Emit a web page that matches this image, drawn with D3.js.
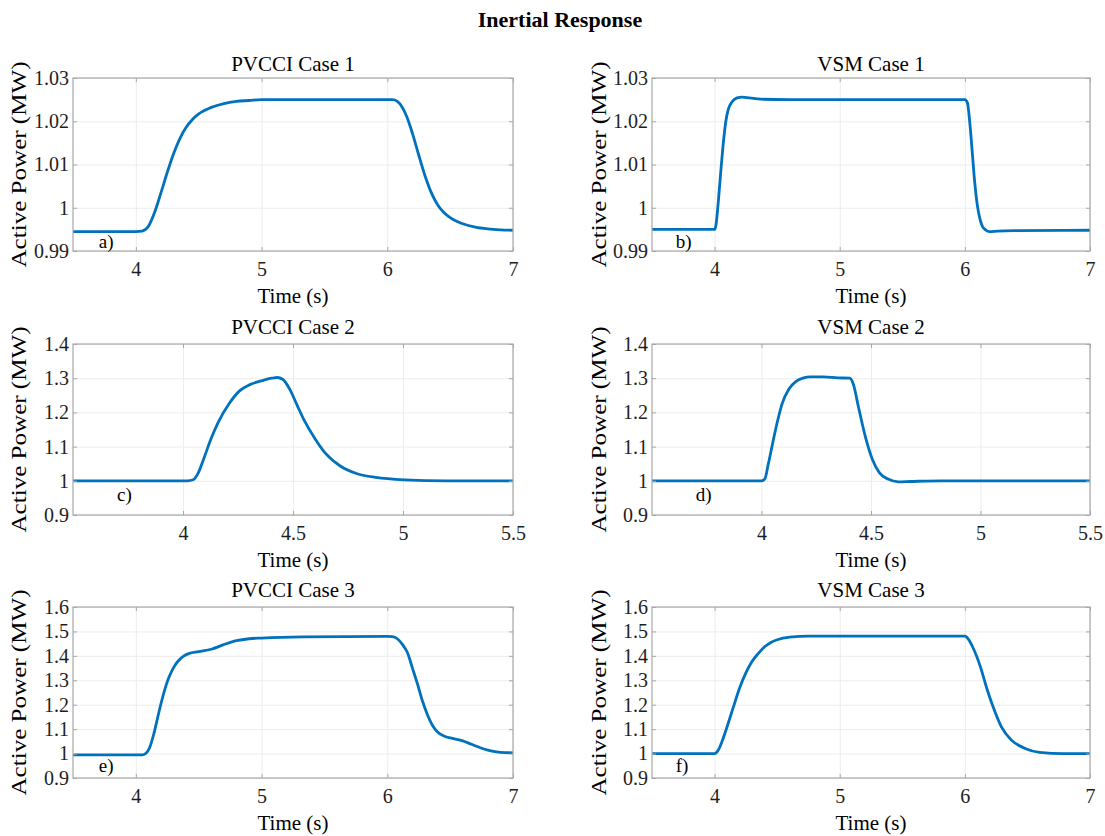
<!DOCTYPE html>
<html>
<head>
<meta charset="utf-8">
<script src="https://cdn.jsdelivr.net/npm/d3@7/dist/d3.min.js"></script>
<style>
  html, body { margin: 0; padding: 0; background: #fff; }
  svg { display: block; }
  text { font-family: "Liberation Serif", "Times New Roman", serif; }
</style>
</head>
<body>
<script>
// ---- Data: active power (MW) versus time (s) for each case ----
const timePVCCI1 = [3.5, 4.0, 4.05, 4.1, 4.15, 4.2, 4.25, 4.3, 4.35, 4.4, 4.45, 4.5, 4.6, 4.7, 4.8, 4.9, 5.0, 5.5, 6.04, 6.08, 6.12, 6.16, 6.2, 6.25, 6.3, 6.35, 6.4, 6.45, 6.5, 6.6, 6.7, 6.8, 6.9, 7.0];
const powerPVCCI1 = [0.9945, 0.9945, 0.9946, 0.9957, 0.999, 1.0035, 1.0082, 1.0125, 1.016, 1.0186, 1.0204, 1.0217, 1.0232, 1.0241, 1.0246, 1.0248, 1.025, 1.025, 1.025, 1.0246, 1.0232, 1.0207, 1.0172, 1.0122, 1.0074, 1.0035, 1.0007, 0.9989, 0.9977, 0.9963, 0.9955, 0.9951, 0.9949, 0.9948];

const timeVSM1 = [3.5, 4.0, 4.01, 4.03, 4.05, 4.07, 4.09, 4.11, 4.14, 4.18, 4.22, 4.28, 4.37, 4.6, 6.0, 6.02, 6.04, 6.06, 6.08, 6.1, 6.12, 6.15, 6.2, 6.26, 6.4, 7.0];
const powerVSM1 = [0.995, 0.995, 0.9958, 1.0015, 1.0085, 1.015, 1.02, 1.0228, 1.0245, 1.0254, 1.0256, 1.0254, 1.0251, 1.025, 1.025, 1.0243, 1.0195, 1.0125, 1.0055, 1.0005, 0.9975, 0.9953, 0.9945, 0.9946, 0.9947, 0.9948];

const timePVCCI2 = [3.5, 4.02, 4.046, 4.07, 4.094, 4.127, 4.16, 4.21, 4.257, 4.306, 4.355, 4.404, 4.428, 4.453, 4.485, 4.518, 4.55, 4.6, 4.648, 4.713, 4.795, 4.876, 5.006, 5.2, 5.5];
const powerPVCCI2 = [1.0, 1.0, 1.003, 1.024, 1.064, 1.122, 1.171, 1.226, 1.263, 1.282, 1.292, 1.300, 1.302, 1.297, 1.268, 1.222, 1.178, 1.123, 1.08, 1.044, 1.02, 1.01, 1.003, 1.0, 1.0];

const timeVSM2 = [3.5, 4.0, 4.015, 4.031, 4.05, 4.07, 4.094, 4.126, 4.158, 4.189, 4.221, 4.284, 4.348, 4.403, 4.419, 4.443, 4.475, 4.506, 4.538, 4.578, 4.625, 4.68, 4.823, 5.5];
const powerVSM2 = [1.0, 1.0, 1.005, 1.049, 1.107, 1.166, 1.225, 1.269, 1.291, 1.300, 1.304, 1.304, 1.301, 1.300, 1.283, 1.215, 1.127, 1.063, 1.024, 1.005, 0.997, 0.998, 1.0, 1.0];

const timePVCCI3 = [3.5, 4.05, 4.08, 4.11, 4.14, 4.17, 4.2, 4.23, 4.26, 4.3, 4.34, 4.38, 4.42, 4.5, 4.6, 4.7, 4.8, 4.9, 5.0, 5.33, 6.0, 6.04, 6.08, 6.12, 6.16, 6.2, 6.24, 6.28, 6.32, 6.36, 6.4, 6.45, 6.52, 6.6, 6.67, 6.74, 6.8, 6.87, 6.94, 7.0];
const powerPVCCI3 = [0.995, 0.995, 1.001, 1.025, 1.075, 1.14, 1.205, 1.262, 1.308, 1.352, 1.381, 1.399, 1.409, 1.417, 1.427, 1.446, 1.462, 1.47, 1.473, 1.478, 1.48, 1.479, 1.47, 1.447, 1.414, 1.35, 1.285, 1.215, 1.158, 1.115, 1.088, 1.072, 1.062, 1.052, 1.038, 1.024, 1.014, 1.007, 1.004, 1.003];

const timeVSM3 = [3.5, 4.0, 4.03, 4.06, 4.1, 4.15, 4.2, 4.25, 4.3, 4.35, 4.4, 4.45, 4.5, 4.6, 4.75, 5.5, 6.003, 6.019, 6.069, 6.125, 6.18, 6.236, 6.292, 6.375, 6.486, 6.597, 6.79, 7.0];
const powerVSM3 = [1.0, 1.0, 1.015, 1.05, 1.11, 1.19, 1.268, 1.33, 1.378, 1.41, 1.437, 1.455, 1.466, 1.477, 1.481, 1.481, 1.481, 1.474, 1.429, 1.354, 1.259, 1.177, 1.109, 1.054, 1.02, 1.005, 1.0, 1.0];

// ---- Axis settings ----
const panelTitles = ["PVCCI Case 1", "VSM Case 1", "PVCCI Case 2", "VSM Case 2", "PVCCI Case 3", "VSM Case 3"];
const panelLetters = ["a)", "b)", "c)", "d)", "e)", "f)"];
const xTicksLong = [4, 5, 6, 7];
const xTicksShort = [4, 4.5, 5, 5.5];
const yTicksRow1 = [0.99, 1, 1.01, 1.02, 1.03];
const yTicksRow2 = [0.9, 1, 1.1, 1.2, 1.3, 1.4];
const yTicksRow3 = [0.9, 1, 1.1, 1.2, 1.3, 1.4, 1.5, 1.6];

const panels = [
  { t: timePVCCI1, p: powerPVCCI1, xd: [3.5, 7], xt: xTicksLong, yd: [0.99, 1.03], yt: yTicksRow1, row: 0, col: 0, lx: 3.705, ly: 0.9908 },
  { t: timeVSM1,   p: powerVSM1,   xd: [3.5, 7], xt: xTicksLong, yd: [0.99, 1.03], yt: yTicksRow1, row: 0, col: 1, lx: 3.69,  ly: 0.9908 },
  { t: timePVCCI2, p: powerPVCCI2, xd: [3.5, 5.5], xt: xTicksShort, yd: [0.9, 1.4], yt: yTicksRow2, row: 1, col: 0, lx: 3.70, ly: 0.94 },
  { t: timeVSM2,   p: powerVSM2,   xd: [3.5, 5.5], xt: xTicksShort, yd: [0.9, 1.4], yt: yTicksRow2, row: 1, col: 1, lx: 3.70, ly: 0.94 },
  { t: timePVCCI3, p: powerPVCCI3, xd: [3.5, 7], xt: xTicksLong, yd: [0.9, 1.6], yt: yTicksRow3, row: 2, col: 0, lx: 3.705, ly: 0.925 },
  { t: timeVSM3,   p: powerVSM3,   xd: [3.5, 7], xt: xTicksLong, yd: [0.9, 1.6], yt: yTicksRow3, row: 2, col: 1, lx: 3.69,  ly: 0.925 }
];

// ---- Layout ----
const W = 1105, H = 836;
const colX = [[73, 513], [652, 1090]];
const rowY = [[78, 251], [344, 515], [607, 778]];
const lineColor = "#0072BD";
const boxColor = "#a8a8a8";
const gridColor = "#ececec";
const labelColor = "#1e1e1e";
const serif = '"Liberation Serif", "Times New Roman", serif';

const svg = d3.select("body").append("svg")
  .attr("width", W).attr("height", H);

svg.append("text")
  .attr("x", 560).attr("y", 27)
  .attr("text-anchor", "middle")
  .attr("font-size", 22).attr("font-weight", "bold")
  .attr("fill", "#000")
  .text("Inertial Response");

const fmt = d3.format("~g");

panels.forEach((d, i) => {
  const [x0, x1] = colX[d.col];
  const [y0, y1] = rowY[d.row];
  const w = x1 - x0, h = y1 - y0;

  const x = d3.scaleLinear().domain(d.xd).range([0, w]);
  const y = d3.scaleLinear().domain(d.yd).range([h, 0]);

  const g = svg.append("g").attr("transform", `translate(${x0},${y0})`);

  // grid lines
  g.append("g")
    .attr("transform", `translate(0,${h})`)
    .call(d3.axisBottom(x).tickValues(d.xt).tickSize(-h).tickFormat(""))
    .call(s => s.select(".domain").remove())
    .call(s => s.selectAll("line").attr("stroke", gridColor).attr("stroke-width", 1));
  g.append("g")
    .call(d3.axisLeft(y).tickValues(d.yt).tickSize(-w).tickFormat(""))
    .call(s => s.select(".domain").remove())
    .call(s => s.selectAll("line").attr("stroke", gridColor).attr("stroke-width", 1));

  // data line
  const line = d3.line()
    .x((_, k) => x(d.t[k]))
    .y(v => y(v))
    .curve(d3.curveMonotoneX);
  g.append("path")
    .datum(d.p)
    .attr("d", line)
    .attr("fill", "none")
    .attr("stroke", lineColor)
    .attr("stroke-width", 2.8)
    .attr("stroke-linejoin", "round");

  // box
  g.append("rect")
    .attr("x", 0).attr("y", 0).attr("width", w).attr("height", h)
    .attr("fill", "none").attr("stroke", boxColor).attr("stroke-width", 1.2);

  // inward ticks on all sides, labels on bottom and left
  const styleAxis = s => {
    s.attr("font-family", serif).attr("font-size", 20);
    s.select(".domain").remove();
    s.selectAll("line").attr("stroke", boxColor);
    s.selectAll("text")
      .attr("fill", labelColor)
      .attr("font-size", 20)
      .style("font-family", serif);
  };
  g.append("g")
    .attr("transform", `translate(0,${h})`)
    .call(d3.axisBottom(x).tickValues(d.xt).tickSize(-4).tickPadding(11).tickFormat(fmt))
    .call(styleAxis);
  g.append("g")
    .call(d3.axisTop(x).tickValues(d.xt).tickSize(-4).tickFormat(""))
    .call(styleAxis);
  g.append("g")
    .call(d3.axisLeft(y).tickValues(d.yt).tickSize(-4).tickPadding(4).tickFormat(fmt))
    .call(styleAxis);
  g.append("g")
    .attr("transform", `translate(${w},0)`)
    .call(d3.axisRight(y).tickValues(d.yt).tickSize(-4).tickFormat(""))
    .call(styleAxis);

  // panel title
  g.append("text")
    .attr("x", w / 2).attr("y", d.row === 0 ? -7 : -10)
    .attr("text-anchor", "middle")
    .attr("font-size", 21)
    .attr("fill", "#000")
    .text(panelTitles[i]);

  // x axis label
  g.append("text")
    .attr("x", w / 2).attr("y", h + 52)
    .attr("text-anchor", "middle")
    .attr("font-size", 21)
    .attr("fill", "#000")
    .text("Time (s)");

  // y axis label
  g.append("text")
    .attr("transform", `translate(${d.col === 0 ? -47 : -46},${h / 2}) rotate(-90)`)
    .attr("text-anchor", "middle")
    .attr("font-size", 21)
    .attr("textLength", 206)
    .attr("lengthAdjust", "spacingAndGlyphs")
    .attr("fill", "#000")
    .text("Active Power (MW)");

  // panel letter
  g.append("text")
    .attr("x", x(d.lx)).attr("y", y(d.ly))
    .attr("font-size", 19)
    .attr("fill", "#000")
    .text(panelLetters[i]);
});
</script>
</body>
</html>
